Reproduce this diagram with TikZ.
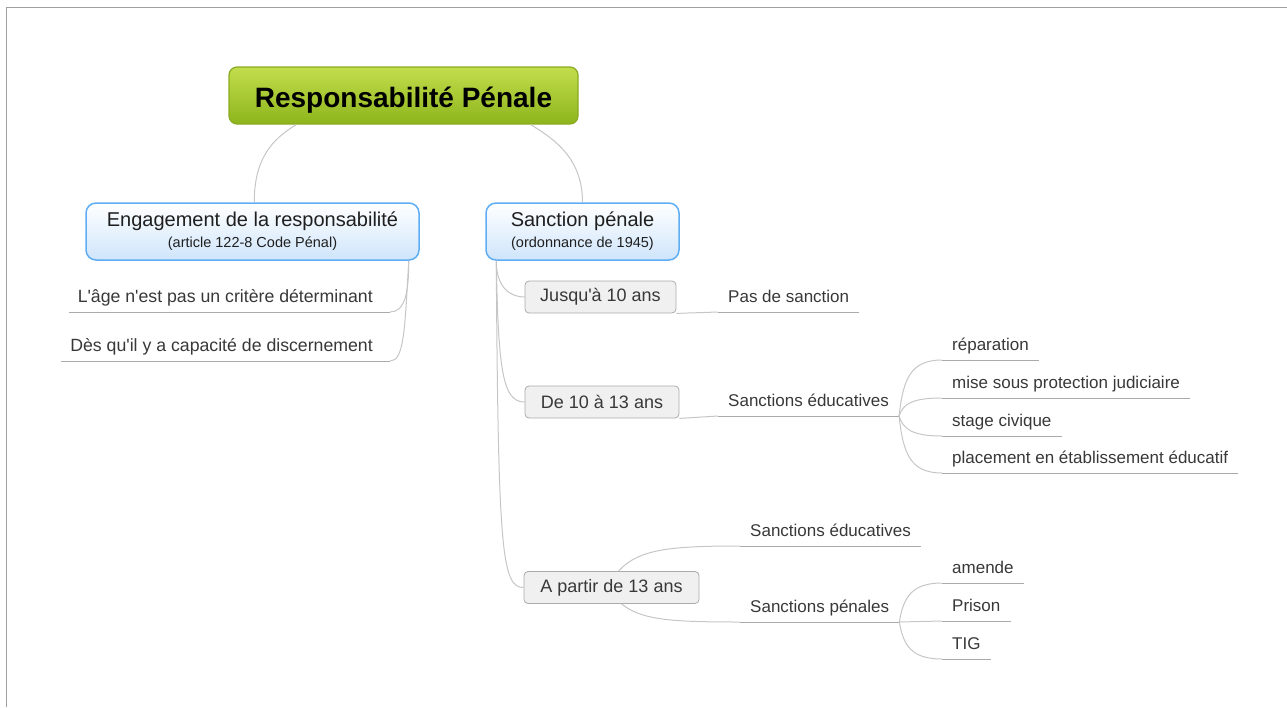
\documentclass[tikz,border=0pt]{standalone}
\usepackage{fontspec}
\setmainfont{Liberation Sans}

\definecolor{rootTop}{HTML}{C3DD4C}
\definecolor{rootBot}{HTML}{8DB51C}
\definecolor{rootLine}{HTML}{8AAA22}
\definecolor{catLine}{HTML}{5FAEF4}
\definecolor{catBot}{HTML}{CFE5FB}
\definecolor{boxFill}{HTML}{F0F0F0}
\definecolor{boxLine}{HTML}{ABABAB}
\definecolor{txtGray}{HTML}{383838}
\definecolor{linkGray}{HTML}{C6C6C6}
\definecolor{ulGray}{HTML}{AAAAAA}
\definecolor{frameGray}{HTML}{A0A0A0}

\tikzset{
  rootnode/.style={draw=rootLine, line width=1.2pt, rounded corners=8pt,
    top color=rootTop, bottom color=rootBot, minimum width=349pt, minimum height=57pt,
    text height=23pt, text depth=0pt, font=\fontsize{28}{32}\selectfont\bfseries},
  catnode/.style={draw=catLine, line width=1.5pt, rounded corners=10pt,
    top color=white, bottom color=catBot, minimum height=57pt, align=center,
    font=\fontsize{20}{21}\selectfont, text=black!88},
  agebox/.style={draw=boxLine, line width=0.8pt, rounded corners=4pt, fill=boxFill,
    minimum height=32pt, font=\fontsize{18}{20}\selectfont, text=txtGray},
  leaf/.style={inner xsep=10pt, inner ysep=4pt, text height=13pt, text depth=5pt,
    font=\fontsize{17}{20}\selectfont, text=txtGray},
  lleaf/.style={leaf, inner xsep=9pt, font=\fontsize{17.7}{20}\selectfont},
  link/.style={draw=linkGray, line width=1pt},
  uline/.style={draw=ulGray, line width=1pt},
}

\begin{document}
\begin{tikzpicture}[x=1pt, y=-1pt]

\useasboundingbox (0,0) rectangle (1287,707);
\draw[frameGray, line width=1.5pt] (6.5,707) -- (6.5,7.5) -- (1287,7.5);

% main topics
\node[rootnode] (root) at (403.5,95.5) {Responsabilité Pénale};
\node[catnode, minimum width=333pt] (eng) at (252.5,231.5)
  {Engagement de la responsabilité\\{\fontsize{14.5}{16}\selectfont(article 122-8 Code Pénal)}};
\node[catnode, minimum width=193pt] (san) at (582.5,231.5)
  {Sanction pénale\\{\fontsize{14.5}{16}\selectfont(ordonnance de 1945)}};

% left side
\node[lleaf, anchor=south east] (age) at (390,312) {L\textquotesingle âge n\textquotesingle est pas un critère déterminant\hspace*{8pt}};
\node[lleaf, anchor=south east] (des) at (390,361) {Dès qu\textquotesingle il y a capacité de discernement\hspace*{8pt}};

% age groups
\node[agebox, minimum width=151pt] (jus) at (600.5,297) {Jusqu\textquotesingle à 10 ans};
\node[agebox, minimum width=154pt] (dix) at (602,402) {De 10 à 13 ans};
\node[agebox, minimum width=175pt] (treize) at (611.5,587.5) {A partir de 13 ans};

% sanctions
\node[leaf, anchor=south west] (pas) at (718,312) {Pas de sanction};
\node[leaf, anchor=south west] (edu) at (718,416) {Sanctions éducatives};
\node[leaf, anchor=south west] (rep) at (942,360) {réparation};
\node[leaf, anchor=south west] (pjj) at (942,398) {mise sous protection judiciaire};
\node[leaf, anchor=south west] (stage) at (942,436) {stage civique};
\node[leaf, anchor=south west] (place) at (942,473) {placement en établissement éducatif};
\node[leaf, anchor=south west] (edub) at (740,546) {Sanctions éducatives};
\node[leaf, anchor=south west] (pen) at (740,622) {Sanctions pénales};
\node[leaf, anchor=south west] (amende) at (942,583) {amende};
\node[leaf, anchor=south west] (prison) at (942,621) {Prison};
\node[leaf, anchor=south west] (tig) at (942,659) {TIG};

\foreach \n in {age,des,pas,edu,rep,pjj,stage,place,edub,pen,amende,prison,tig}
  \draw[uline] (\n.south west) -- (\n.south east);

% links
\draw[link] ([xshift=68pt]root.south west) .. controls +(-25,15) and +(0,-43) .. ([xshift=169pt]eng.north west);
\draw[link] ([xshift=-48pt]root.south east) .. controls +(25,15) and +(0,-43) .. (san.north);

\draw[link] ([xshift=-11pt]eng.south east) .. controls +(0,35) and +(14,0) .. (age.south east);
\draw[link] ([xshift=-11pt]eng.south east) .. controls +(-4,70) and +(14,0) .. (des.south east);

\draw[link] ([xshift=11pt]san.south west) .. controls +(0,25) and +(-16,0) .. (jus.west);
\draw[link] ([xshift=11pt]san.south west) .. controls +(2,110) and +(-22,0) .. (dix.west);
\draw[link] ([xshift=11pt]san.south west) .. controls +(2,290) and +(-22,0) .. (treize.west);

\draw[link] (jus.south east) -- (pas.south west);
\draw[link] (dix.south east) -- (edu.south west);
\draw[link] ([xshift=7pt]treize.north) .. controls +(20,-22) and +(-70,0) .. (edub.south west);
\draw[link] ([xshift=10pt]treize.south) .. controls +(20,16) and +(-70,0) .. (pen.south west);

\draw[link] (edu.south east) .. controls +(4,-36) and +(-32,0) .. (rep.south west);
\draw[link] (edu.south east) .. controls +(4,-12) and +(-30,0) .. (pjj.south west);
\draw[link] (edu.south east) .. controls +(4,13) and +(-30,0) .. (stage.south west);
\draw[link] (edu.south east) .. controls +(4,37) and +(-32,0) .. (place.south west);

\draw[link] (pen.south east) .. controls +(4,-25) and +(-30,0) .. (amende.south west);
\draw[link] (pen.south east) -- (prison.south west);
\draw[link] (pen.south east) .. controls +(4,24) and +(-30,0) .. (tig.south west);

\end{tikzpicture}
\end{document}
